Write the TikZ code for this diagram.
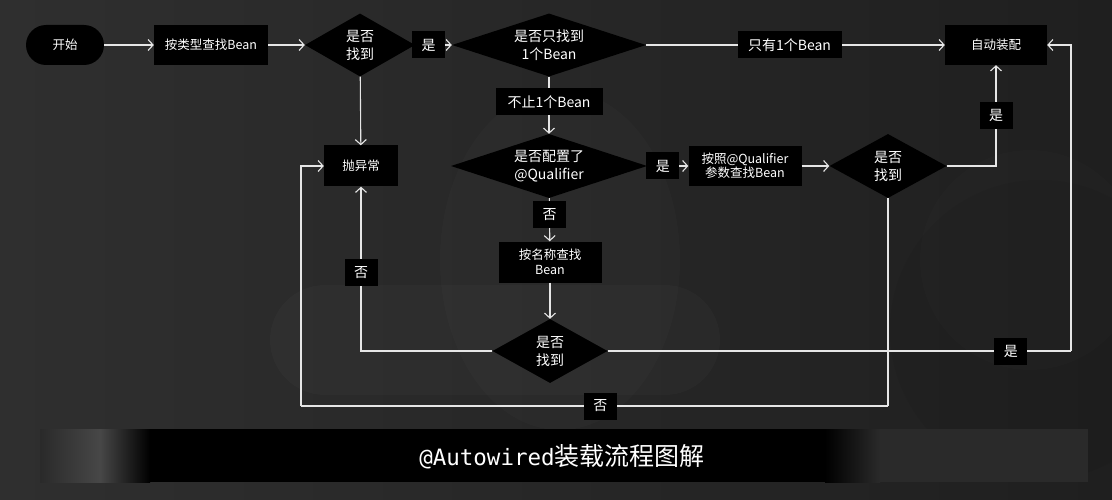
\documentclass[tikz,border=0pt]{standalone}
\usepackage{fontspec}
\newfontfamily\cjk{Noto Sans CJK SC}
\newfontfamily\mono{DejaVu Sans Mono}
\usetikzlibrary{shapes.geometric,arrows.meta}
\definecolor{bgA}{HTML}{2F2F2F}
\definecolor{bgB}{HTML}{1F1F1F}
\definecolor{bgC}{HTML}{2A2A2A}
\definecolor{lineC}{HTML}{E6E6E6}
\definecolor{bandG}{HTML}{474747}
\tikzset{
  base/.style={fill=black, text=white, inner sep=0pt, align=center},
  procbox/.style={base, rectangle, font=\cjk\fontsize{12.5}{15}\selectfont},
  decbox/.style={base, diamond, font=\cjk\fontsize{14}{18}\selectfont},
  lbl/.style={base, rectangle, font=\cjk\fontsize{14}{16}\selectfont, minimum width=33pt, minimum height=27pt},
  conn/.style={draw=lineC, line width=1.1pt, -{Straight Barb[length=5pt,width=11pt,line width=1.1pt]}},
  plain/.style={draw=lineC, line width=1.1pt},
}
\begin{document}
\begin{tikzpicture}[x=1pt,y=-1pt]
\useasboundingbox (0,0) rectangle (1112,500);
% background
\shade[left color=bgA, right color=bgB] (0,0) rectangle (1112,500);
\fill[white, opacity=0.018, rounded corners=55pt] (270,285) rectangle (720,395);
\fill[white, opacity=0.015] (560,260) ellipse (120pt and 170pt);
\fill[black, opacity=0.06] (1040,330) circle (150pt);
\fill[white, opacity=0.012] (1030,260) circle (110pt);
% title band
\shade[left color=bgC, right color=bandG] (40,429) rectangle (100,482);
\shade[left color=bandG, right color=black] (100,429) rectangle (150,482);
\fill[black] (150,429) rectangle (825,482);
\shade[left color=black, right color=bgC] (825,429) rectangle (880,482);
\fill[bgC] (880,429) rectangle (1088,482);
\node (title) at (562,457) {\mono\fontsize{22.5}{26}\selectfont\color{white}@Autowired\cjk\fontsize{25}{28}\selectfont 装载流程图解};
% nodes
\node[procbox, rounded corners=20pt, minimum width=78pt, minimum height=40pt] (start) at (65,45) {开始};
\node[procbox, minimum width=114pt, minimum height=40pt] (bytype) at (211,45) {按类型查找Bean};
\node[decbox, shape aspect=1.75, minimum width=110pt, minimum height=63pt] (d1) at (360,45) {是否\\找到};
\node[decbox, shape aspect=3.08, minimum width=194pt, minimum height=63pt] (d2) at (549,45) {是否只找到\\1个Bean};
\node[procbox, minimum width=102pt, minimum height=40pt] (auto) at (996,45) {自动装配};
\node[decbox, shape aspect=3.06, minimum width=196pt, minimum height=64pt] (d3) at (549,166) {是否配置了\\@Qualifier};
\node[procbox, minimum width=113pt, minimum height=40pt, font=\cjk\fontsize{12.5}{14}\selectfont] (qual) at (745,166) {按照@Qualifier\\参数查找Bean};
\node[decbox, shape aspect=1.83, minimum width=117pt, minimum height=64pt] (d4) at (888,166) {是否\\找到};
\node[procbox, minimum width=74pt, minimum height=41pt] (exc) at (361,166) {抛异常};
\node[procbox, minimum width=103pt, minimum height=41pt, font=\cjk\fontsize{12.5}{15}\selectfont] (byname) at (550,262) {按名称查找\\Bean};
\node[decbox, shape aspect=1.8, minimum width=115pt, minimum height=64pt] (d5) at (550,351) {是否\\找到};
\coordinate (rc) at (1071,351);
\coordinate (bl) at (888,406);
\coordinate (br) at (301,406);
\coordinate (bt) at (301,166);
% connectors
\draw[conn] (start) -- (bytype);
\draw[conn] (bytype) -- (d1);
\draw[conn] (d1) -- node[lbl, pos=0.37] (l1) {是} (d2);
\draw[conn] (d2) -- node[lbl, pos=0.48, minimum width=104pt] (l2) {只有1个Bean} (auto);
\draw[conn] (d2) -- node[lbl, pos=0.44, minimum width=107pt] (l3) {不止1个Bean} (d3);
\draw[conn] (d1) -- (exc);
\draw[conn] (d3) -- node[lbl, pos=0.38] (l4) {是} (qual);
\draw[conn] (qual) -- (d4);
\draw[conn] (d4.east) -| node[lbl, pos=0.75] (l5) {是} (auto.south);
\draw[conn] (d3) -- node[lbl, pos=0.39] (l6) {否} (byname);
\draw[conn] (byname) -- (d5);
\draw[conn] (d5.west) -| node[lbl, pos=0.74] (l7) {否} (exc.south);
\draw[plain] (d5.east) -- node[lbl, pos=0.87] (l8) {是} (rc);
\draw[conn] (rc) |- (auto.east);
\draw[plain] (d4.south) -- (bl);
\draw[plain] (bl) -- node[lbl, pos=0.49] (l9) {否} (br);
\draw[conn] (br) -- (bt) -- (exc.west);
\end{tikzpicture}
\end{document}
